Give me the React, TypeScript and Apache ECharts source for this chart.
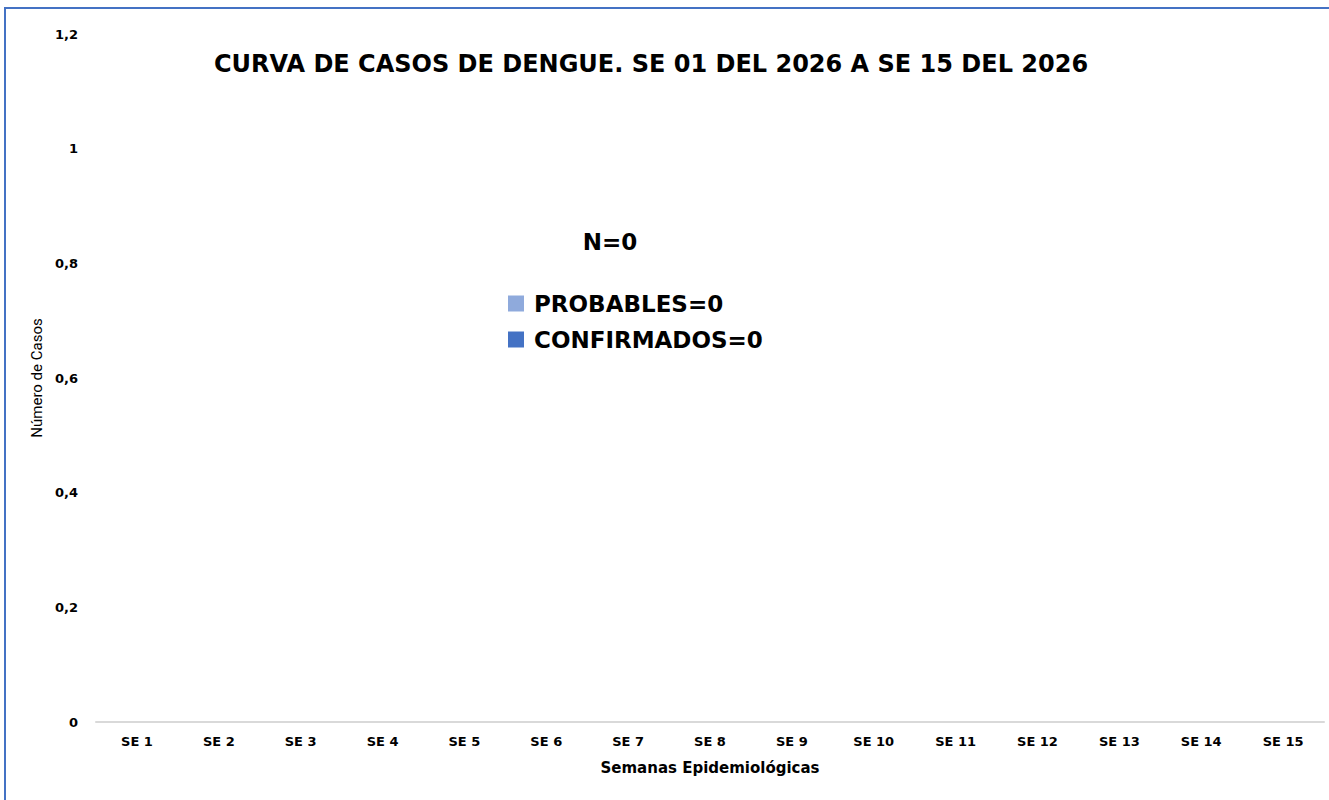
import React, { useEffect, useRef } from "react";
import * as echarts from "echarts";

const categories = ["SE 1", "SE 2", "SE 3", "SE 4", "SE 5", "SE 6", "SE 7", "SE 8", "SE 9", "SE 10", "SE 11", "SE 12", "SE 13", "SE 14", "SE 15"];
const probables = [0, 0, 0, 0, 0, 0, 0, 0, 0, 0, 0, 0, 0, 0, 0];
const confirmados = [0, 0, 0, 0, 0, 0, 0, 0, 0, 0, 0, 0, 0, 0, 0];
const yTicks = { min: 0, max: 1.2, interval: 0.2 };
const titleText = "CURVA DE CASOS DE DENGUE. SE 01 DEL 2026 A SE 15 DEL 2026";
const totalText = "N=0";

export default function App() {
  const ref = useRef<HTMLDivElement>(null);
  useEffect(() => {
    if (!ref.current) return;
    const chart = echarts.init(ref.current, null, { renderer: "svg" });
    const font = "'DejaVu Sans', sans-serif";
    chart.setOption({
      animation: false,
      backgroundColor: "#ffffff",
      textStyle: { fontFamily: font },
      title: [
        {
          text: titleText,
          left: 646,
          textAlign: "center",
          top: 47,
          textStyle: { fontSize: 24, fontWeight: "bold", color: "#000", fontFamily: font },
        },
        {
          text: totalText,
          left: 605,
          textAlign: "center",
          top: 225,
          textStyle: { fontSize: 23, fontWeight: "bold", color: "#000", fontFamily: font },
        },
      ],
      legend: {
        orient: "vertical",
        left: 503,
        top: 287,
        itemWidth: 16,
        itemHeight: 16,
        itemGap: 13,
        icon: "rect",
        textStyle: { fontSize: 23, fontWeight: "bold", color: "#000", fontFamily: font, padding: [0, 0, 0, 5] },
        data: ["PROBABLES=0", "CONFIRMADOS=0"],
      },
      grid: { left: 96, right: 5, top: 34, bottom: 78, containLabel: false },
      xAxis: {
        type: "category",
        data: categories,
        name: "Semanas Epidemiológicas",
        nameLocation: "middle",
        nameGap: 38,
        nameTextStyle: { fontSize: 15, fontWeight: "bold", color: "#000", fontFamily: font },
        axisLine: { show: true, lineStyle: { color: "#D9D9D9", width: 2 } },
        axisTick: { show: false },
        axisLabel: { fontSize: 13, fontWeight: "bold", color: "#000", margin: 13, fontFamily: font },
      },
      yAxis: {
        type: "value",
        min: yTicks.min,
        max: yTicks.max,
        interval: yTicks.interval,
        name: "Número de Casos",
        nameLocation: "middle",
        nameGap: 52,
        nameTextStyle: { fontSize: 15, color: "#000", fontFamily: "Roboto, sans-serif" },
        axisLine: { show: false },
        axisTick: { show: false },
        splitLine: { show: false },
        axisLabel: {
          fontSize: 13,
          fontWeight: "bold",
          color: "#000",
          margin: 18,
          fontFamily: font,
          formatter: (v: number) => (Math.round(v * 10) / 10).toString().replace(".", ","),
        },
      },
      series: [
        {
          name: "PROBABLES=0",
          type: "bar",
          stack: "total",
          data: probables,
          itemStyle: { color: "#8FAADC" },
          barWidth: "60%",
        },
        {
          name: "CONFIRMADOS=0",
          type: "bar",
          stack: "total",
          data: confirmados,
          itemStyle: { color: "#4472C4" },
        },
      ],
      graphic: [
        {
          type: "rect",
          shape: { x: 5, y: 8, width: 1340, height: 810 },
          style: { fill: "none", stroke: "#4472C4", lineWidth: 2 },
          silent: true,
        },
      ],
    });
    return () => chart.dispose();
  }, []);
  return <div ref={ref} style={{ position: "fixed", left: 0, top: 0, width: 1329, height: 800 }} />;
}
